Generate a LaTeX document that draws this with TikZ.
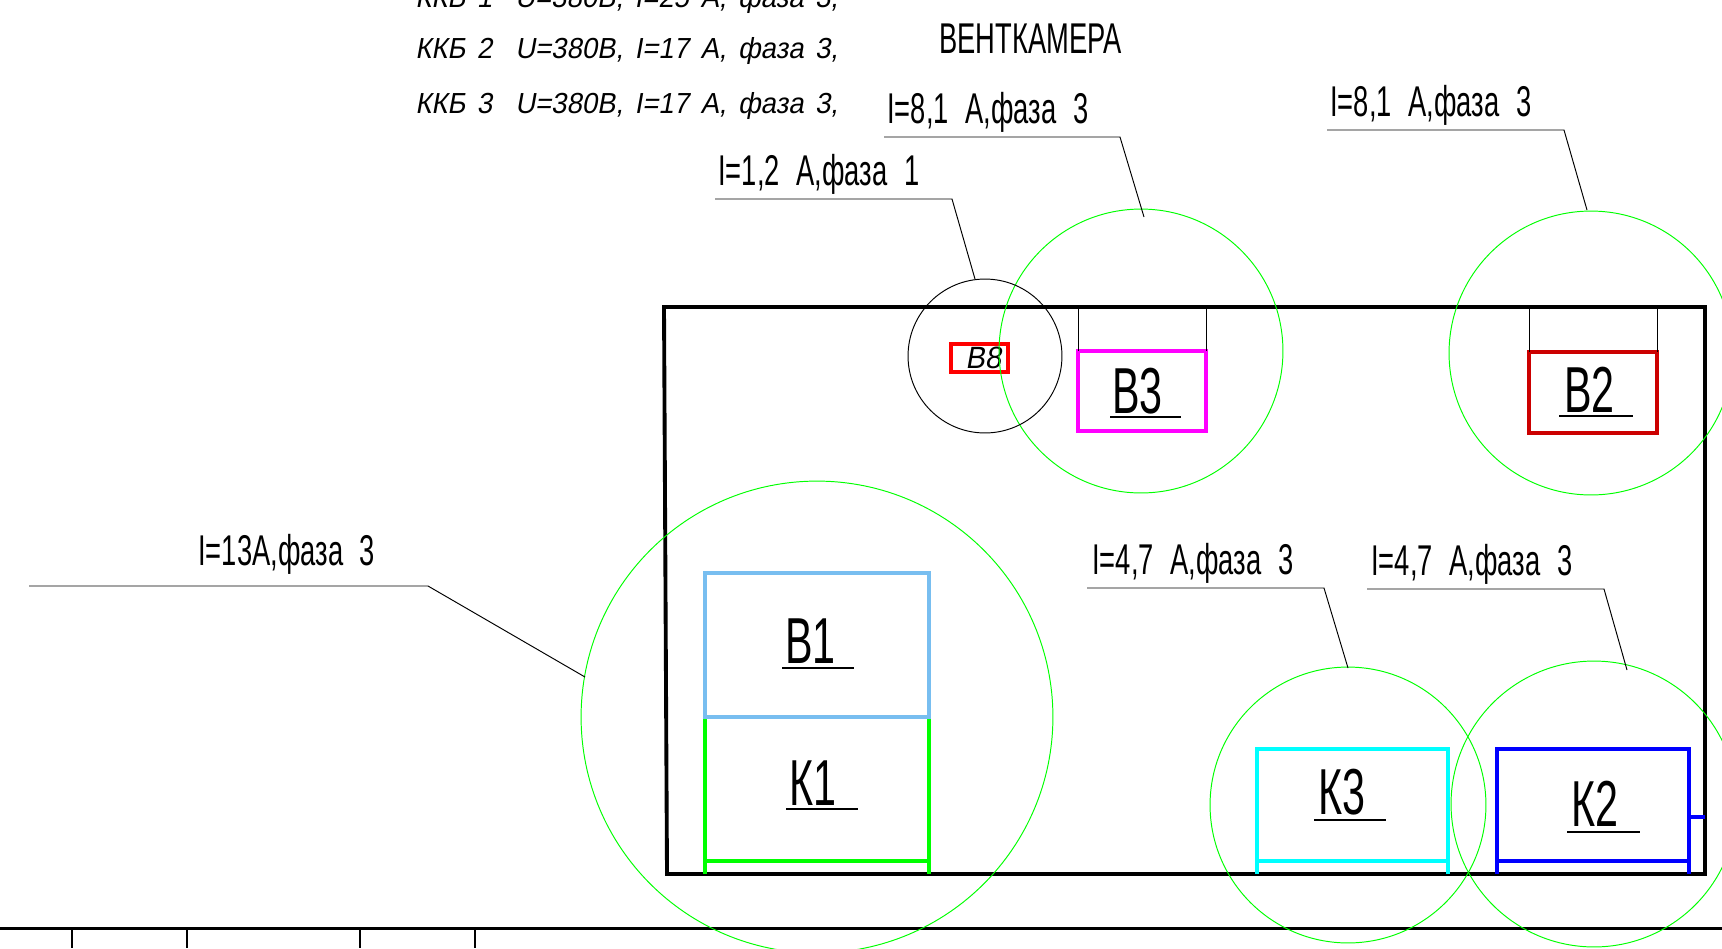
\documentclass[tikz,border=0pt]{standalone}
\usepackage{fontspec}
\newfontfamily\cadfont[FakeStretch=0.635,WordSpace=2.2]{Liberation Sans}
\newfontfamily\cadslant[FakeStretch=0.95,FakeSlant=0.18,WordSpace=1.5]{Liberation Sans}
\definecolor{zonegreen}{RGB}{0,255,0}
\definecolor{paleblue}{RGB}{120,190,240}
\definecolor{darkred}{RGB}{204,0,0}
\definecolor{purered}{RGB}{255,0,0}
\definecolor{pureblue}{RGB}{0,0,255}
\definecolor{purecyan}{RGB}{0,255,255}
\definecolor{puremagenta}{RGB}{255,0,255}
\tikzset{
  wall/.style={line width=2.2pt},
  rule/.style={line width=1.7pt},
  thinline/.style={line width=0.55pt},
  unitline/.style={line width=1.9pt},
  zone/.style={circle,draw=zonegreen,line width=0.55pt,inner sep=0pt,outer sep=0pt,minimum size=#1*0.04cm},
  unitbox/.style n args={3}{draw=#1,unitline,inner sep=0pt,outer sep=0pt,anchor=north west,minimum width=#2*0.02cm,minimum height=#3*0.02cm},
  note/.style={anchor=base west,inner sep=0pt,font=\cadfont\fontsize{24.5}{24.5}\selectfont},
  tag/.style={anchor=base west,inner sep=0pt,font=\cadfont\fontsize{37}{37}\selectfont},
  load/.style={anchor=base west,inner sep=0pt,font=\cadslant\fontsize{16.5}{16.5}\selectfont}
}
\begin{document}
\begin{tikzpicture}[x=0.02cm,y=-0.02cm]
        \useasboundingbox (0,0) rectangle (1722,948);
        \clip (0,0) rectangle (1722,948);

        % room
        \coordinate (frameTL) at (664,307);
        \coordinate (frameTR) at (1705,307);
        \coordinate (frameBR) at (1705,874);
        \coordinate (frameBL) at (667,874);
        \draw[wall] (frameTL) -- (frameTR) -- (frameBR) -- (frameBL) -- cycle;

        % title block edge
        \coordinate (stampL) at (0,928);
        \coordinate (stampR) at (1722,928);
        \draw[rule] (stampL) -- (stampR);
        \foreach \tick/\xpos in {a/72,b/187,c/360,d/475} {
          \coordinate (tick\tick) at (\xpos,928);
          \coordinate (foot\tick) at (\xpos,948);
          \draw[line width=1.1pt] (tick\tick) -- (foot\tick);
        }

        % load list
        \begin{scope}[every node/.style={load}]
          \node (kkb1) at (415,7)   {ККБ 1~~U=380В, I=25 А, фаза 3,};
          \node (kkb2) at (415,58)  {ККБ 2~~U=380В, I=17 А, фаза 3,};
          \node (kkb3) at (415,113) {ККБ 3~~U=380В, I=17 А, фаза 3,};
        \end{scope}
        \node[note] (room) at (939,53) {ВЕНТКАМЕРА};

        % units
        \node[unitbox={purered}{57}{28}] (B8) at (951,344) {};
        \node[unitbox={puremagenta}{128}{80}] (B3) at (1078,351) {};
        \node[unitbox={darkred}{128}{81}] (B2) at (1529,352) {};
        \node[unitbox={zonegreen}{224}{144}] (K1) at (705,717) {};
        \node[unitbox={paleblue}{224}{144}] (B1) at (705,573) {};
        \node[unitbox={purecyan}{191}{112}] (K3) at (1257,749) {};
        \node[unitbox={pureblue}{192}{112}] (K2) at (1497,749) {};

        \draw[thinline] (B3.north west |- frameTL) -- (B3.north west);
        \draw[thinline] (B3.north east |- frameTL) -- (B3.north east);
        \draw[thinline] (B2.north west |- frameTL) -- (B2.north west);
        \draw[thinline] (B2.north east |- frameTL) -- (B2.north east);

        \draw[zonegreen,unitline] (K1.south west) -- (K1.south west |- frameBL);
        \draw[zonegreen,unitline] (K1.south east) -- (K1.south east |- frameBL);
        \draw[purecyan,unitline] (K3.south west) -- (K3.south west |- frameBL);
        \draw[purecyan,unitline] (K3.south east) -- (K3.south east |- frameBL);
        \draw[pureblue,unitline] (K2.south west) -- (K2.south west |- frameBL);
        \draw[pureblue,unitline] (K2.south east) -- (K2.south east |- frameBL);
        \coordinate (K2stub) at (1689,817);
        \draw[pureblue,unitline] (K2stub) -- (K2stub -| frameBR);

        % unit names
        \node[load,font=\cadslant\fontsize{17.5}{17.5}\selectfont] (B8name) at (965,368) {В8};
        \node[tag] (B3name) at (1112,413) {В3};
        \node[tag] (B2name) at (1564,412) {В2};
        \node[tag] (B1name) at (785,663)  {В1};
        \node[tag] (K1name) at (789,805)  {К1};
        \node[tag] (K3name) at (1318,814) {К3};
        \node[tag] (K2name) at (1571,826) {К2};

        \foreach \unit/\xa/\xb/\ypos in {B3/1110/1181/417,B2/1559/1633/416,B1/782/854/668,K1/786/858/809,K3/1314/1386/820,K2/1567/1640/832} {
          \coordinate (\unit ula) at (\xa,\ypos);
          \coordinate (\unit ulb) at (\xb,\ypos);
          \draw[line width=0.8pt] (\unit ula) -- (\unit ulb);
        }

        % zones
        \node[zone=142] (zoneB3) at (1141,351) {};
        \node[zone=142] (zoneB2) at (1591,353) {};
        \node[zone=236] (zoneK1) at (817,717) {};
        \node[zone=138] (zoneK3) at (1348,805) {};
        \node[zone=143] (zoneK2) at (1594,804) {};
        \node[zone=77,draw=black] (zoneB8) at (985,356) {};

        % currents
        \node[note] (curB3) at (887,123) {I=8,1 А,фаза 3};
        \node[note] (curB8) at (718,185) {I=1,2 А,фаза 1};
        \node[note] (curB2) at (1330,116) {I=8,1 А,фаза 3};
        \node[note] (curK1) at (198,565) {I=13А,фаза 3};
        \node[note] (curK3) at (1092,574) {I=4,7 А,фаза 3};
        \node[note] (curK2) at (1371,575) {I=4,7 А,фаза 3};

        \coordinate (legB3a) at (884,137);
        \coordinate (legB3b) at (1120,137);
        \coordinate (legB3c) at (1144,217);
        \coordinate (legB8a) at (715,199);
        \coordinate (legB8b) at (952,199);
        \coordinate (legB8c) at (975,279);
        \coordinate (legB2a) at (1327,130);
        \coordinate (legB2b) at (1564,130);
        \coordinate (legB2c) at (1587,210);
        \coordinate (legK1a) at (29,586);
        \coordinate (legK1b) at (428,586);
        \coordinate (legK1c) at (585,677);
        \coordinate (legK3a) at (1087,588);
        \coordinate (legK3b) at (1324,588);
        \coordinate (legK3c) at (1348,668);
        \coordinate (legK2a) at (1367,589);
        \coordinate (legK2b) at (1604,589);
        \coordinate (legK2c) at (1627,670);

        \draw[thinline] (legB3a) -- (legB3b) -- (legB3c);
        \draw[thinline] (legB8a) -- (legB8b) -- (legB8c);
        \draw[thinline] (legB2a) -- (legB2b) -- (legB2c);
        \draw[thinline] (legK1a) -- (legK1b) -- (legK1c);
        \draw[thinline] (legK3a) -- (legK3b) -- (legK3c);
        \draw[thinline] (legK2a) -- (legK2b) -- (legK2c);

      \end{tikzpicture}
\end{document}
